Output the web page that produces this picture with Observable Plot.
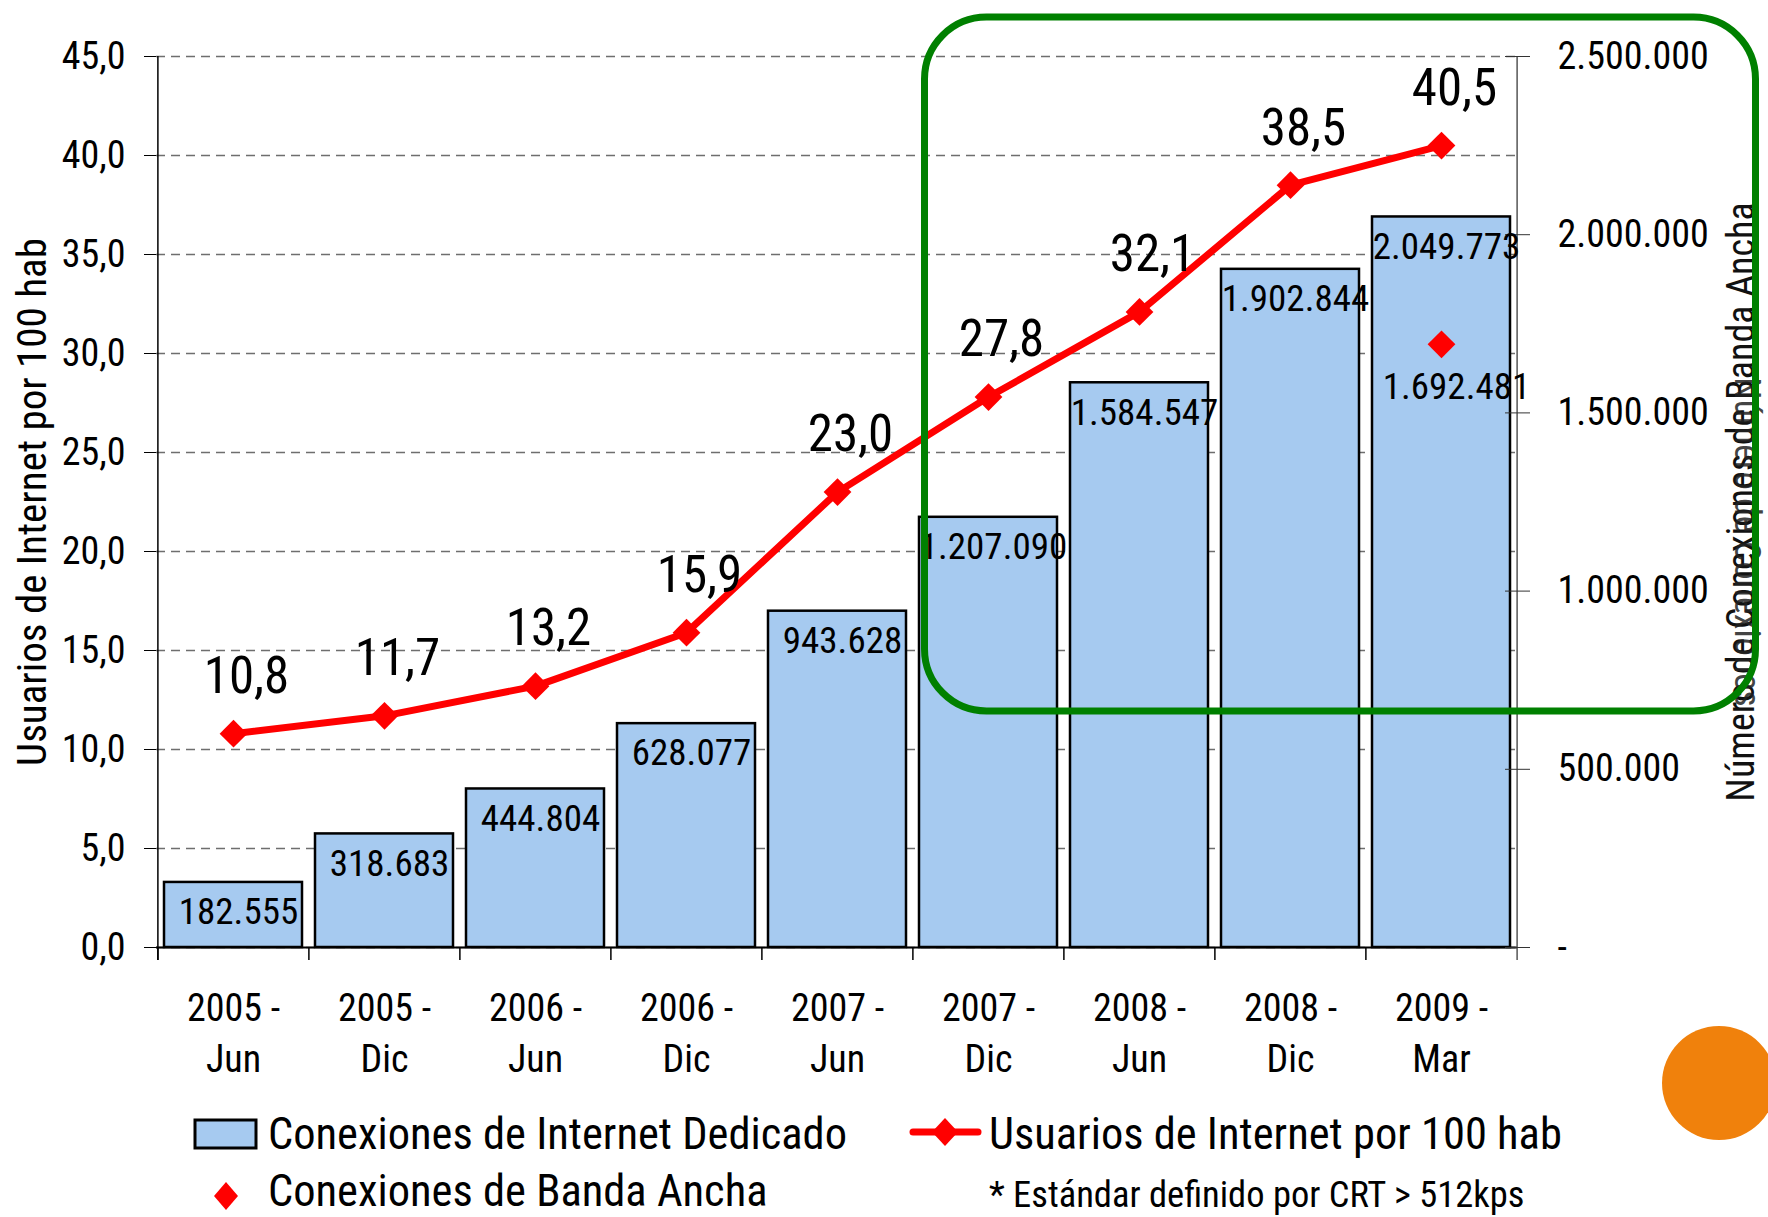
<!DOCTYPE html>
<html>
<head>
<meta charset="utf-8">
<script src="https://cdn.jsdelivr.net/npm/d3@7"></script>
<script src="https://cdn.jsdelivr.net/npm/@observablehq/plot@0.6"></script>
<style>
  html, body { margin: 0; padding: 0; background: #fff; }
  #wrap { position: relative; width: 1768px; height: 1217px; overflow: hidden; background: #fff;
          font-family: "Liberation Sans Narrow", "Roboto Condensed", "DejaVu Sans Condensed", "Arial Narrow", sans-serif; }
  #chart { position: absolute; left: 0; top: 0; }
  #overlay, #legend { position: absolute; left: 0; top: 0; pointer-events: none; }
</style>
</head>
<body>
<div id="wrap">
  <div id="chart"></div>
  <svg id="overlay" width="1768" height="1217"></svg>
  <svg id="legend" width="1768" height="1217"></svg>
</div>
<script>
// ---------- data ----------
const periods = ["2005 - Jun", "2005 - Dic", "2006 - Jun", "2006 - Dic", "2007 - Jun", "2007 - Dic", "2008 - Jun", "2008 - Dic", "2009 - Mar"];
const usuariosPor100 = [10.8, 11.7, 13.2, 15.9, 23.0, 27.8, 32.1, 38.5, 40.5];
const conexionesDedicado = [182555, 318683, 444804, 628077, 943628, 1207090, 1584547, 1902844, 2049773];
const conexionesBandaAncha = [null, null, null, null, null, null, null, null, 1692481];
const leftTicks = [0, 5, 10, 15, 20, 25, 30, 35, 40, 45];
const rightTicks = [0, 500000, 1000000, 1500000, 2000000, 2500000];
const leftMax = 45;
const rightMax = 2500000;

const legendItems = ["Conexiones de Internet Dedicado", "Usuarios de Internet por 100 hab", "Conexiones de Banda Ancha"];
const footnote = "* Estándar definido por CRT > 512kps";
const leftTitle = "Usuarios de Internet por 100 hab";
const rightTitle = "Número de Conexiones de Banda Ancha";
const rightTitleGhost = "Número de Conexiones";

// ---------- build ----------
const FONT = '"Liberation Sans Narrow", "Roboto Condensed", "DejaVu Sans Condensed", "Arial Narrow", sans-serif';
const K = leftMax / rightMax; // map right-axis values onto left scale
const data = periods.map((p, i) => ({
  period: p,
  usuarios: usuariosPor100[i],
  dedicado: conexionesDedicado[i],
  banda: conexionesBandaAncha[i]
}));

const W = 1768, H = 1100, ML = 156, MR = 251, MT = 56, MB = 153;
const step = (W - ML - MR) / periods.length;
const pxPerUnit = (H - MT - MB) / leftMax;
const tickExt = 13 / pxPerUnit;

const fmtDec = d => d3.format(".1f")(d).replace(".", ",");
const fmtInt = d => d === 0 ? "-" : d3.format(",")(Math.round(d)).replace(/,/g, ".");

const RED = "#FF0000";
const BLUE = "#A6CAF0";

const chart = Plot.plot({
  width: W, height: H,
  marginLeft: ML, marginRight: MR, marginTop: MT, marginBottom: MB,
  style: { fontFamily: FONT, color: "#000", background: "transparent", overflow: "visible" },
  x: { type: "band", domain: periods, paddingInner: 0.089, paddingOuter: 0.0445, axis: null },
  y: { domain: [0, leftMax], axis: null },
  marks: [
    Plot.gridY(leftTicks, { stroke: "#6e6e6e", strokeOpacity: 1, strokeWidth: 1.5, strokeDasharray: "9,6" }),
    Plot.barY(data, { x: "period", y: d => d.dedicado * K, fill: BLUE, stroke: "#000", strokeWidth: 2.5 }),
    // axis lines & boundary ticks
    Plot.ruleY([0], { stroke: "#000", strokeWidth: 2 }),
    Plot.ruleX(periods, { x: d => d, dx: -step / 2, y1: -tickExt, y2: 0, stroke: "#000", strokeWidth: 1.5 }),
    Plot.ruleX(periods.slice(0, 1), { x: d => d, dx: -step / 2, y1: -tickExt, y2: leftMax, stroke: "#000", strokeWidth: 1.5 }),
    Plot.ruleX(periods.slice(-1), { x: d => d, dx: step / 2, y1: -tickExt, y2: leftMax, stroke: "#555", strokeWidth: 1.5 }),
    // left axis
    Plot.axisY(leftTicks, { anchor: "left", tickSize: 12, tickPadding: 19, tickFormat: fmtDec, fontSize: 38, label: null }),
    // right axis (values mapped onto left scale)
    Plot.axisY(rightTicks.map(v => v * K), { anchor: "right", tickSize: 25, dx: -13, tickPadding: 28, tickFormat: v => fmtInt(v / K), fontSize: 38, label: null, stroke: "#333" }),
    // x axis labels
    Plot.axisX({ anchor: "bottom", tickSize: 0, tickPadding: 37, tickFormat: d => d.replace(" - ", " -\n"), fontSize: 38, lineHeight: 1.34, label: null }),
    // axis titles
    Plot.text([leftTitle], { text: d => d, frameAnchor: "left", textAnchor: "middle", dx: -124, rotate: -90, fontSize: 41 }),
    Plot.text([rightTitle], { text: d => d, frameAnchor: "right", textAnchor: "middle", dx: 224, rotate: -90, fontSize: 38, fill: "#111" }),
    Plot.text([rightTitleGhost], { text: d => d, frameAnchor: "right", textAnchor: "middle", dx: 229, dy: 40, rotate: 90, fontSize: 36, fill: "#222", fillOpacity: 0.85 }),
    // line series
    Plot.line(data, { x: "period", y: "usuarios", stroke: RED, strokeWidth: 7 }),
    Plot.dot(data, { x: "period", y: "usuarios", symbol: "diamond2", r: 12.5, fill: RED, stroke: "none" }),
    Plot.text(data, { x: "period", y: "usuarios", text: d => fmtDec(d.usuarios), dy: -57, dx: 13, fontSize: 51 }),
    // bar labels
    Plot.text(data, { x: "period", y: d => d.dedicado * K, text: d => fmtInt(d.dedicado), dy: 30, dx: 5, fontSize: 37 }),
    // broadband point
    Plot.dot(data.filter(d => d.banda != null), { x: "period", y: d => d.banda * K, symbol: "diamond2", r: 12.5, fill: RED, stroke: "none" }),
    Plot.text(data.filter(d => d.banda != null), { x: "period", y: d => d.banda * K, text: d => fmtInt(d.banda), dy: 43, dx: 15, fontSize: 37 })
  ]
});
document.getElementById("chart").appendChild(chart);

// ---------- annotations (green box, orange circle) ----------
const ov = d3.select("#overlay");
ov.append("rect").attr("x", 924.5).attr("y", 17).attr("width", 831).attr("height", 694)
  .attr("rx", 62).attr("ry", 62).attr("fill", "none").attr("stroke", "#008000").attr("stroke-width", 7);
ov.append("circle").attr("cx", 1719).attr("cy", 1083).attr("r", 57).attr("fill", "#F0810C");

// ---------- legend ----------
const lg = d3.select("#legend").style("font-family", FONT);
lg.append("rect").attr("x", 195).attr("y", 1120).attr("width", 61).attr("height", 28)
  .attr("fill", BLUE).attr("stroke", "#000").attr("stroke-width", 3);
lg.append("text").attr("x", 268).attr("y", 1149).attr("font-size", 44.5).text(legendItems[0]);

lg.append("line").attr("x1", 913).attr("x2", 978).attr("y1", 1132).attr("y2", 1132)
  .attr("stroke", RED).attr("stroke-width", 7).attr("stroke-linecap", "round");
lg.append("path").attr("d", "M945,1118 L958,1132 L945,1146 L932,1132 Z").attr("fill", RED);
lg.append("text").attr("x", 989).attr("y", 1149).attr("font-size", 44.5).text(legendItems[1]);

lg.append("path").attr("d", "M226,1182 L238,1196 L226,1210 L214,1196 Z").attr("fill", RED);
lg.append("text").attr("x", 268).attr("y", 1206).attr("font-size", 44.5).text(legendItems[2]);

lg.append("text").attr("x", 989).attr("y", 1207).attr("font-size", 36.5).text(footnote);
</script>
</body>
</html>
